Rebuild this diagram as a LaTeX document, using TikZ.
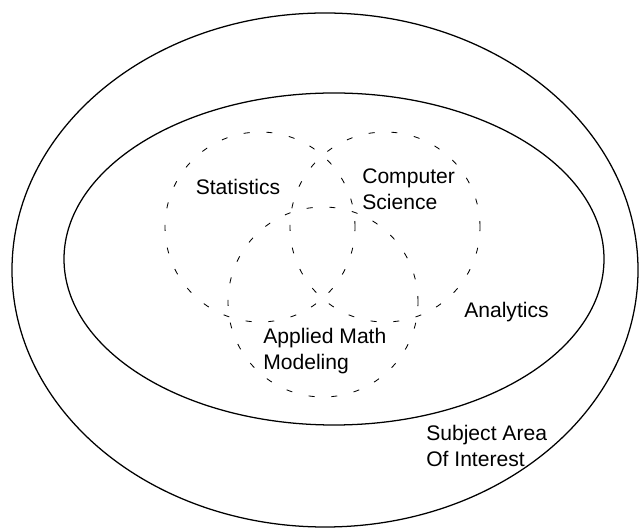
\documentclass[tikz,border=0pt]{standalone}
\usepackage{fontspec}
\setmainfont{Liberation Sans}
\usepackage{tikz}

\begin{document}
\begin{tikzpicture}[
	field/.style={line width=0.9pt},
	subfield/.style={line width=0.6pt, dash pattern=on 0.15cm off 0.42cm},
	lbl/.style={anchor=west, inner sep=0pt, align=left, font=\fontsize{15}{18.5}\selectfont}]
	\useasboundingbox (0, 0) rectangle (16, 13.225);
	% Rings and circles:
	\draw[field] (8.125, 6.475) ellipse [x radius=7.825, y radius=6.425];
	\draw[field] (8.35, 6.75) ellipse [x radius=6.75, y radius=4.15];
	\draw[subfield] (6.5, 7.55) circle (2.375);
	\draw[subfield] (9.625, 7.55) circle (2.375);
	\draw[subfield] (8.075, 5.675) circle (2.375);
	% Labels:
	\node[lbl, anchor=center] (stats) at (5.95, 8.55) {Statistics};
	\node[lbl] (compsci) at (9.05, 8.5) {Computer\\Science};
	\node[lbl] (appmath) at (6.575, 4.44) {Applied Math\\Modeling};
	\node[lbl] (analytics) at (11.6, 5.425) {Analytics};
	\node[lbl] (subject) at (10.65, 2.075) {Subject Area\\Of Interest};
\end{tikzpicture}
\end{document}
